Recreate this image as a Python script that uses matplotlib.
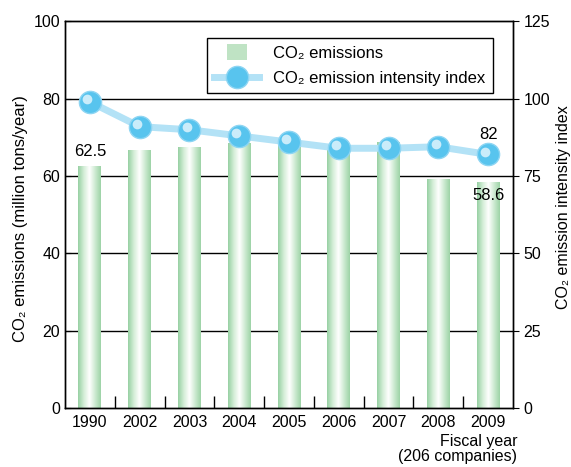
import matplotlib
matplotlib.use('Agg')
import matplotlib.pyplot as plt
import numpy as np
from matplotlib.patches import Patch, Rectangle
from matplotlib.lines import Line2D
from matplotlib.legend_handler import HandlerPatch
from matplotlib.colors import LinearSegmentedColormap
import matplotlib.transforms as mtransforms

plt.rcParams['font.family'] = ['Liberation Sans', 'DejaVu Sans']

# 数据
years = ['1990', '2002', '2003', '2004', '2005', '2006', '2007', '2008', '2009']
emissions = [62.5, 66.8, 67.4, 68.5, 69.0, 67.2, 68.7, 59.2, 58.6]
intensity = [99, 91, 90, 88, 86, 84, 84, 84.5, 82]

fig = plt.figure(figsize=(5.71, 4.67), dpi=100)
ax = fig.add_axes([65/571, 59/467, 448/571, 386.5/467])
ax2 = ax.twinx()

x = np.arange(len(years))
bar_w = 0.46

# 柱子: 先画透明的柱子, 再用渐变图片填充
bars = ax.bar(x, emissions, width=bar_w, color='none', edgecolor='none', zorder=2)
cmap = LinearSegmentedColormap.from_list('g', ['#98d1a3', '#d3edd7', '#ffffff', '#cdead1', '#9dd3a7'])
grad = np.linspace(0, 1, 64).reshape(1, -1)
for b in bars:
    x0 = b.get_x()
    im = ax.imshow(grad, cmap=cmap, aspect='auto', extent=[x0, x0 + b.get_width(), 0, b.get_height()],
                   zorder=2, interpolation='bilinear')
    im.set_clip_path(b)

ax.set_xlim(-0.5, len(years) - 0.5)
ax.set_ylim(0, 100)
ax.set_yticks([0, 20, 40, 60, 80, 100])
ax.set_xticks(x)
ax.set_xticklabels(years, fontsize=11.5)
ax.set_xticks(x[:-1] + 0.5, minor=True)
ax.tick_params(axis='x', which='major', length=0, pad=5)
ax.tick_params(axis='x', which='minor', direction='in', length=9, width=1)
ax.tick_params(axis='y', direction='in', length=4, labelsize=11.5)
for yv in [20, 40, 60, 80]:
    ax.axhline(yv, color='black', lw=1, zorder=1)
ax.set_axisbelow(True)

# 折线
ax2.set_ylim(0, 125)
ax2.set_yticks([0, 25, 50, 75, 100, 125])
ax2.tick_params(axis='y', direction='out', length=4, labelsize=11.5)
ax2.plot(x, intensity, color='#b3e2f6', lw=5, zorder=3, solid_capstyle='round')
ax2.plot(x, intensity, 'o', ms=16, color='#58c4ee', mec='#8dd5f3', mew=1, zorder=4)
hl = mtransforms.offset_copy(ax2.transData, fig=fig, x=-2, y=2, units='points')
ax2.plot(x, intensity, 'o', ms=7, color='#dff4fd', mec='none', alpha=0.85, zorder=5, transform=hl)

for sp in list(ax.spines.values()) + list(ax2.spines.values()):
    sp.set_linewidth(1)

# 标签
ax.set_ylabel('CO₂ emissions (million tons/year)', fontsize=12)
ax.yaxis.set_label_coords(-0.083, 0.49)
ax2.set_ylabel('CO₂ emission intensity index', fontsize=11.5, rotation=90)
ax2.yaxis.set_label_coords(1.095, 0.52)
fig.text(517/571, 1 - 449/467, 'Fiscal year\n(206 companies)', ha='right', va='center',
         fontsize=11.5, multialignment='right', linespacing=1.0)

ax.text(x[0], emissions[0] + 2, '62.5', ha='center', va='bottom', fontsize=12, zorder=6)
ax2.text(x[-1], intensity[-1] + 4, '82', ha='center', va='bottom', fontsize=12, zorder=6)
ax.text(x[-1], emissions[-1] - 1.8, '58.6', ha='center', va='top', fontsize=12, zorder=6)


# 图例里的柱子做窄一点
def narrow_bar(legend, orig_handle, xdescent, ydescent, width, height, fontsize):
    w = width * 0.45
    return Rectangle((-xdescent + (width - w) / 2, -ydescent - height * 0.2), w, height * 1.4)


handles = [Patch(facecolor='#bfe3c4', edgecolor='none'),
           Line2D([0], [0], color='#b3e2f6', lw=5, marker='o', ms=16, mfc='#58c4ee', mec='#8dd5f3')]
leg = ax2.legend(handles, ['CO₂ emissions', 'CO₂ emission intensity index'], loc='upper right',
                 bbox_to_anchor=(0.973, 0.978), fontsize=12, frameon=True, fancybox=False,
                 edgecolor='black', framealpha=1, borderpad=0.45, handlelength=2.7,
                 handletextpad=0.8, labelspacing=0.6,
                 handler_map={Patch: HandlerPatch(patch_func=narrow_bar)})
leg.get_frame().set_linewidth(1)

plt.savefig('out.png', dpi=100)
